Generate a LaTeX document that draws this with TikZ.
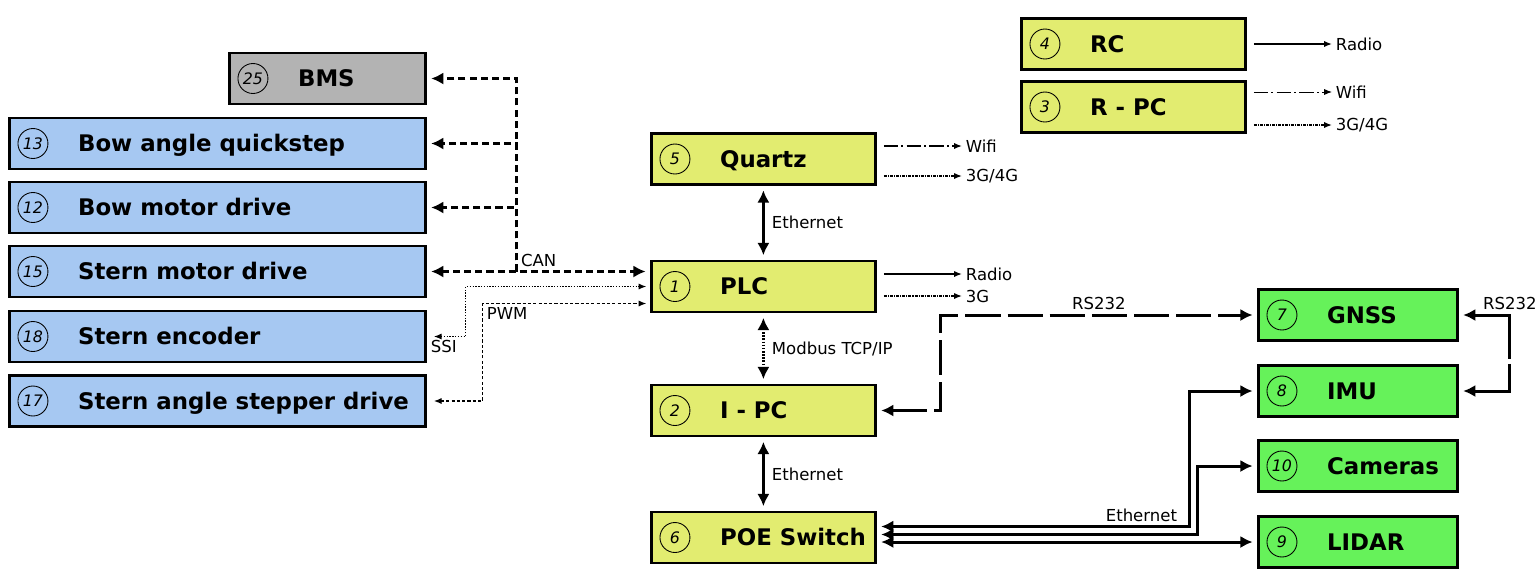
\documentclass[tikz,border=0pt]{standalone}
\usepackage{fontspec}
\setmainfont{DejaVu Sans}
\usetikzlibrary{arrows.meta,calc}

\definecolor{plcyellow}{RGB}{226,236,112}
\definecolor{sensgreen}{RGB}{102,242,90}
\definecolor{drvblue}{RGB}{166,200,242}
\definecolor{bmsgray}{RGB}{179,179,179}

\tikzset{
  block/.style={draw, line width=1.6pt, anchor=west, minimum height=1.02cm, inner sep=0pt},
  numc/.style={circle, draw, line width=0.5pt, minimum size=0.6cm, inner sep=0pt, font=\fontsize{9}{10}\selectfont\itshape},
  btext/.style={anchor=west, inner sep=0pt, text height=12pt, text depth=2.5pt, font=\fontsize{13}{15}\selectfont\bfseries},
  lbl/.style={inner sep=2pt, font=\fontsize{9.4}{11}\selectfont},
  wide/.style={line width=1.7pt, >={Latex[length=7pt,width=7pt]}, shorten <=2.5pt, shorten >=2.5pt},
  slim/.style={line width=0.75pt, >={Latex[length=4.5pt,width=3.5pt]}, shorten <=4pt},
  candash/.style={dash pattern=on 4pt off 2.3pt},
  wifidash/.style={dash pattern=on 8pt off 2pt on 1pt off 2pt},
  celldash/.style={dash pattern=on 1.7pt off 0.6pt on 0.6pt off 0.6pt},
}

\begin{document}
\begin{tikzpicture}[x=0.02cm, y=-0.02cm]
\useasboundingbox (0,0) rectangle (1540,582);

% drives and BMS
\node[block, fill=bmsgray, minimum width=3.92cm] (bms) at (228,78.5) {};
\node[numc] (bmsn) at ([xshift=14.2pt]bms.west) {25};
\node[btext] (bmst) at ([xshift=39.7pt]bms.west) {BMS};

\node[block, fill=drvblue, minimum width=8.32cm] (bowq) at (8,143.5) {};
\node[numc] (bowqn) at ([xshift=14.2pt]bowq.west) {13};
\node[btext] (bowqt) at ([xshift=39.7pt]bowq.west) {Bow angle quickstep};

\node[block, fill=drvblue, minimum width=8.32cm] (bowm) at (8,207.5) {};
\node[numc] (bowmn) at ([xshift=14.2pt]bowm.west) {12};
\node[btext] (bowmt) at ([xshift=39.7pt]bowm.west) {Bow motor drive};

\node[block, fill=drvblue, minimum width=8.32cm] (sternm) at (8,271.5) {};
\node[numc] (sternmn) at ([xshift=14.2pt]sternm.west) {15};
\node[btext] (sternmt) at ([xshift=39.7pt]sternm.west) {Stern motor drive};

\node[block, fill=drvblue, minimum width=8.32cm] (sterne) at (8,336.5) {};
\node[numc] (sternen) at ([xshift=14.2pt]sterne.west) {18};
\node[btext] (sternet) at ([xshift=39.7pt]sterne.west) {Stern encoder};

\node[block, fill=drvblue, minimum width=8.32cm] (sterns) at (8,401) {};
\node[numc] (sternsn) at ([xshift=14.2pt]sterns.west) {17};
\node[btext] (sternst) at ([xshift=39.7pt]sterns.west) {Stern angle stepper drive};

% control column
\node[block, fill=plcyellow, minimum width=4.48cm] (quartz) at (650,159) {};
\node[numc] (quartzn) at ([xshift=14.2pt]quartz.west) {5};
\node[btext] (quartzt) at ([xshift=39.7pt]quartz.west) {Quartz};

\node[block, fill=plcyellow, minimum width=4.48cm] (plc) at (650,286.5) {};
\node[numc] (plcn) at ([xshift=14.2pt]plc.west) {1};
\node[btext] (plct) at ([xshift=39.7pt]plc.west) {PLC};

\node[block, fill=plcyellow, minimum width=4.48cm] (ipc) at (650,410.5) {};
\node[numc] (ipcn) at ([xshift=14.2pt]ipc.west) {2};
\node[btext] (ipct) at ([xshift=39.7pt]ipc.west) {I - PC};

\node[block, fill=plcyellow, minimum width=4.48cm] (poe) at (650,537.5) {};
\node[numc] (poen) at ([xshift=14.2pt]poe.west) {6};
\node[btext] (poet) at ([xshift=39.7pt]poe.west) {POE Switch};

% remote side
\node[block, fill=plcyellow, minimum width=4.48cm] (rc) at (1020,44) {};
\node[numc] (rcn) at ([xshift=14.2pt]rc.west) {4};
\node[btext] (rct) at ([xshift=39.7pt]rc.west) {RC};

\node[block, fill=plcyellow, minimum width=4.48cm] (rpc) at (1020,107) {};
\node[numc] (rpcn) at ([xshift=14.2pt]rpc.west) {3};
\node[btext] (rpct) at ([xshift=39.7pt]rpc.west) {R - PC};

% sensors
\node[block, fill=sensgreen, minimum width=3.98cm] (gnss) at (1257,315) {};
\node[numc] (gnssn) at ([xshift=14.2pt]gnss.west) {7};
\node[btext] (gnsst) at ([xshift=39.7pt]gnss.west) {GNSS};

\node[block, fill=sensgreen, minimum width=3.98cm] (imu) at (1257,391) {};
\node[numc] (imun) at ([xshift=14.2pt]imu.west) {8};
\node[btext] (imut) at ([xshift=39.7pt]imu.west) {IMU};

\node[block, fill=sensgreen, minimum width=3.98cm] (cam) at (1257,466) {};
\node[numc] (camn) at ([xshift=14.2pt]cam.west) {10};
\node[btext] (camt) at ([xshift=39.7pt]cam.west) {Cameras};

\node[block, fill=sensgreen, minimum width=3.98cm] (lidar) at (1257,542) {};
\node[numc] (lidarn) at ([xshift=14.2pt]lidar.west) {9};
\node[btext] (lidart) at ([xshift=39.7pt]lidar.west) {LIDAR};

% wireless outputs
\node[lbl, anchor=west] (qwifi) at (962,146) {Wifi};
\node[lbl, anchor=west] (qcell) at (962,176) {3G/4G};
\node[lbl, anchor=west] (pradio) at (962,274) {Radio};
\node[lbl, anchor=west] (pcell) at (962,296) {3G};
\node[lbl, anchor=west] (rradio) at (1332,44) {Radio};
\node[lbl, anchor=west] (rwifi) at (1332,92) {Wifi};
\node[lbl, anchor=west] (rcell) at (1332,125) {3G/4G};

\draw[slim, ->, wifidash] (qwifi -| quartz.east) -- (qwifi.west);
\draw[slim, ->, celldash] (qcell -| quartz.east) -- (qcell.west);
\draw[slim, ->] (pradio -| plc.east) -- (pradio.west);
\draw[slim, ->, celldash] (pcell -| plc.east) -- (pcell.west);
\draw[slim, ->] (rradio -| rc.east) -- (rradio.west);
\draw[slim, ->, wifidash, line width=0.5pt] (rwifi -| rpc.east) -- (rwifi.west);
\draw[slim, ->, celldash] (rcell -| rpc.east) -- (rcell.west);

% CAN bus
\coordinate (canbus) at (516,271.5);
\draw[wide, <->, candash] (sternm.east) -- (canbus) node[lbl, above right] (canl) {CAN} -- (sternm.east -| plc.west);
\draw[wide, ->, candash, shorten <=0pt] (canbus) |- (bms.east);
\draw[wide, ->, candash, shorten <=0pt] (canbus) |- (bowq.east);
\draw[wide, ->, candash, shorten <=0pt] (canbus) |- (bowm.east);

% SSI and PWM
\draw[slim, <->, shorten >=2pt, dash pattern=on 0.8pt off 0.8pt] (sterne.east) node[lbl, below right] (ssil) {SSI} -- ++(39,0) |- (plc.west);
\draw[slim, <->, shorten >=2pt, dash pattern=on 1.8pt off 1.2pt] (sterns.east) -- ++(56,0) |- ($(plc.west)+(0,17)$) node[pos=0.5, lbl, below right] (pwml) {PWM};

% vertical links
\draw[wide, <->] (quartz) -- (plc) node[midway, lbl, right, xshift=2pt] (ethq) {Ethernet};
\draw[wide, <->, dash pattern=on 0.9pt off 0.9pt] (plc) -- (ipc) node[midway, lbl, right, xshift=2pt] (modl) {Modbus TCP/IP};
\draw[wide, <->] (ipc) -- (poe) node[midway, lbl, right, xshift=2pt] (ethp) {Ethernet};

% serial links
\draw[wide, <->, dash pattern=on 20pt off 4pt] (ipc.east) -- ++(64,0) |- (gnss.west) node[pos=0.75, lbl, above] (rsl) {RS232};
\draw[wide, <->, dash pattern=on 45pt off 3pt] (gnss.east) -- ++(51,0) node[lbl, above] (rsr) {RS232} |- (imu.east);

% ethernet from switch
\draw[wide, <->] ($(poe.east)+(0,-11)$) -| ($(imu.west)+(-68,0)$) node[pos=0.5, lbl, above left, xshift=-4pt] (ethl) {Ethernet} -- (imu.west);
\draw[wide, <->] ($(poe.east)+(0,-3)$) -| ($(cam.west)+(-60,0)$) -- (cam.west);
\draw[wide, <->] (poe.east |- lidar.west) -- (lidar.west);

\end{tikzpicture}
\end{document}
